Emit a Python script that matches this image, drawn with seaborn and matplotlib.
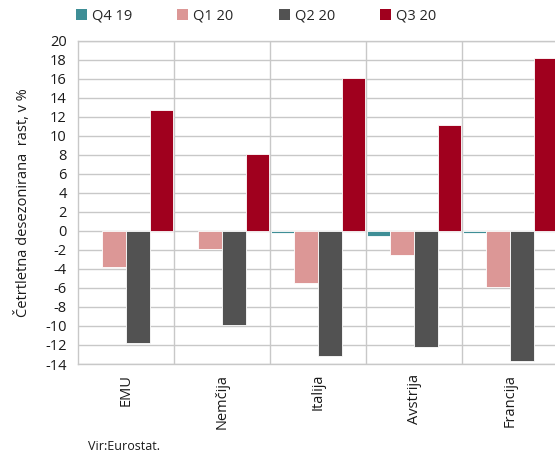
import matplotlib
matplotlib.use("Agg")
import matplotlib.pyplot as plt
import matplotlib.transforms as mtransforms
from matplotlib.patches import Patch
import seaborn as sns
import pandas as pd

countries = ["EMU", "Nemčija", "Italija", "Avstrija", "Francija"]
quarters = ["Q4 19", "Q1 20", "Q2 20", "Q3 20"]
q4_19 = [0.0, 0.0, -0.2, -0.5, -0.2]
q1_20 = [-3.8, -1.9, -5.5, -2.5, -5.9]
q2_20 = [-11.8, -9.9, -13.2, -12.2, -13.7]
q3_20 = [12.7, 8.1, 16.1, 11.2, 18.2]
colors = ["#3E8E96", "#DC9796", "#525252", "#A0001E"]
yticks = list(range(-14, 21, 2))

rows = []
for q, vals in zip(quarters, [q4_19, q1_20, q2_20, q3_20]):
    for c, v in zip(countries, vals):
        rows.append({"country": c, "quarter": q, "value": v})
df = pd.DataFrame(rows)

sns.set_style("white")
plt.rcParams["font.family"] = ["Open Sans", "DejaVu Sans"]

fig = plt.figure(figsize=(5.55, 4.58), dpi=100)
ax = fig.add_axes([78/555, 1-364/458, 480/555, (364-41)/458])

sns.barplot(data=df, x="country", y="value", hue="quarter", hue_order=quarters,
            order=countries, palette=colors, width=0.985, saturation=1,
            edgecolor="white", linewidth=0.6, ax=ax, legend=False, zorder=3)
for p in ax.patches:
    if abs(p.get_height()) < 1e-9:
        p.set_visible(False)

ax.set_xlim(-0.5, 4.5)
ax.set_ylim(-14, 20)
ax.set_yticks(yticks)
ax.set_yticklabels([str(t) for t in yticks], fontsize=10.5, color="#1a1a1a")
ax.set_xticks(range(len(countries)))
ax.set_xticks([0.5, 1.5, 2.5, 3.5], minor=True)
ax.grid(False)
ax.yaxis.grid(True, color="#c8c8c8", linewidth=1, zorder=0)
ax.xaxis.grid(True, which="minor", color="#c8c8c8", linewidth=1, zorder=0)
ax.set_axisbelow(True)
ax.tick_params(axis="both", which="both", length=0)
ax.tick_params(axis="y", pad=8)
for s in ax.spines.values():
    s.set_color("#c8c8c8")
    s.set_linewidth(1)

offset = mtransforms.ScaledTranslation(13/100, 0, fig.dpi_scale_trans)
ax.set_xticklabels(countries, rotation=90, fontsize=10.5, color="#1a1a1a", va="top", ha="center")
for lbl in ax.get_xticklabels():
    lbl.set_transform(lbl.get_transform() + offset)
ax.tick_params(axis="x", pad=7)
ax.set_xlabel("")
ax.set_ylabel("Četrtletna desezonirana  rast, v %", fontsize=10.5, color="#1a1a1a", labelpad=10)

handles = [Patch(facecolor=c, edgecolor="none") for c in colors]
fig.legend(handles, quarters, loc="center left", bbox_to_anchor=(70/555, 1-16/458),
           ncol=4, frameon=False, fontsize=10.5, handlelength=0.75, handleheight=0.75,
           handletextpad=0.35, columnspacing=3.1, borderaxespad=0)

fig.text(88/555, 1-447/458, "Vir:Eurostat.", fontsize=9, color="#1a1a1a", va="center")

fig.savefig("out.png", dpi=100)
